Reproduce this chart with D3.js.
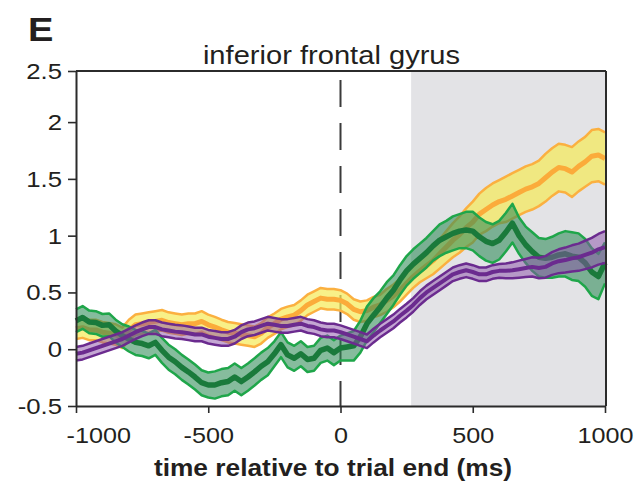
<!DOCTYPE html>
<html>
<head>
<meta charset="utf-8">
<script src="https://cdn.jsdelivr.net/npm/d3@7/dist/d3.min.js"></script>
<style>
  html, body { margin: 0; padding: 0; background: #ffffff; }
  svg { display: block; }
  text { font-family: "Liberation Sans", Arial, Helvetica, sans-serif; fill: #231f20; }
</style>
</head>
<body>
<svg id="chart" width="638" height="486"></svg>
<script>
// ---------------- data ----------------
const panelLabel = "E";
const title = "inferior frontal gyrus";
const xTitle = "time relative to trial end (ms)";
const xTicks = [-1000, -500, 0, 500, 1000];
const yTicks = [-0.5, 0, 0.5, 1, 1.5, 2, 2.45];
const yTickLabels = ["-0.5", "0", "0.5", "1", "1.5", "2", "2.5"];
const shadeStart = 267;   // ms, grey window start
const times = d3.range(-1000, 1001, 25); // sample times (ms)

const greenMean = [0.25,0.28,0.24,0.235,0.21,0.215,0.16,0.12,0.09,0.06,
  0.05,0.03,0.06,-0.01,-0.07,-0.11,-0.16,-0.20,-0.245,-0.295,
  -0.315,-0.315,-0.295,-0.285,-0.245,-0.285,-0.245,-0.20,-0.15,-0.11,
  -0.04,0.04,-0.05,-0.08,-0.04,-0.09,-0.08,-0.01,0.01,-0.03,
  0.01,0.02,0.03,0.11,0.225,0.30,0.37,0.45,0.52,0.61,
  0.69,0.75,0.80,0.85,0.91,0.96,0.99,1.02,1.04,1.05,
  1.04,0.99,0.95,0.93,0.96,1.03,1.11,1.00,0.92,0.86,
  0.81,0.80,0.81,0.83,0.84,0.82,0.81,0.76,0.68,0.64,0.76];
const greenSem = [0.10,0.10,0.10,0.10,0.10,0.10,0.10,0.10,0.11,0.11,
  0.11,0.11,0.11,0.11,0.11,0.11,0.11,0.11,0.11,0.11,
  0.11,0.12,0.12,0.12,0.12,0.12,0.12,0.12,0.12,0.12,
  0.11,0.11,0.11,0.11,0.11,0.11,0.11,0.11,0.11,0.11,
  0.11,0.12,0.13,0.14,0.15,0.15,0.14,0.14,0.13,0.13,
  0.13,0.13,0.13,0.13,0.13,0.14,0.14,0.15,0.15,0.16,
  0.17,0.17,0.17,0.17,0.17,0.17,0.17,0.16,0.16,0.17,
  0.17,0.17,0.18,0.19,0.20,0.21,0.21,0.21,0.21,0.20,0.18];

const orangeMean = [0.18,0.19,0.17,0.17,0.15,0.14,0.13,0.10,0.17,0.215,
  0.225,0.235,0.245,0.255,0.235,0.225,0.215,0.225,0.225,0.245,
  0.215,0.195,0.17,0.15,0.14,0.13,0.12,0.11,0.14,0.19,
  0.225,0.265,0.285,0.30,0.34,0.39,0.42,0.45,0.44,0.44,
  0.43,0.40,0.35,0.33,0.34,0.37,0.39,0.43,0.47,0.52,
  0.58,0.64,0.69,0.735,0.78,0.84,0.90,0.96,1.01,1.07,
  1.12,1.19,1.23,1.27,1.30,1.32,1.35,1.38,1.41,1.43,
  1.46,1.51,1.56,1.60,1.59,1.56,1.61,1.65,1.70,1.71,1.68];
const orangeSem = [0.09,0.09,0.09,0.09,0.09,0.09,0.09,0.09,0.09,0.09,
  0.09,0.09,0.09,0.09,0.09,0.09,0.09,0.09,0.09,0.09,
  0.09,0.09,0.09,0.09,0.09,0.09,0.09,0.09,0.09,0.09,
  0.09,0.09,0.09,0.09,0.09,0.09,0.09,0.09,0.09,0.09,
  0.09,0.09,0.09,0.09,0.09,0.09,0.09,0.10,0.10,0.10,
  0.10,0.10,0.10,0.11,0.12,0.13,0.14,0.15,0.16,0.17,
  0.18,0.18,0.19,0.19,0.19,0.20,0.20,0.20,0.20,0.20,
  0.20,0.21,0.21,0.21,0.21,0.22,0.22,0.22,0.23,0.23,0.23];

const purpleMean = [-0.04,-0.03,-0.01,0.01,0.03,0.05,0.07,0.09,0.12,0.15,
  0.175,0.195,0.195,0.175,0.165,0.155,0.15,0.14,0.13,0.13,
  0.11,0.10,0.09,0.09,0.11,0.15,0.175,0.185,0.205,0.225,
  0.215,0.205,0.205,0.215,0.225,0.205,0.195,0.175,0.165,0.165,
  0.15,0.13,0.11,0.09,0.07,0.12,0.165,0.205,0.245,0.295,
  0.34,0.39,0.45,0.50,0.54,0.58,0.62,0.66,0.68,0.695,
  0.68,0.66,0.66,0.68,0.69,0.69,0.695,0.705,0.715,0.725,
  0.715,0.725,0.755,0.775,0.785,0.80,0.81,0.83,0.85,0.88,0.90];
const purpleSem = [0.06,0.06,0.06,0.06,0.06,0.06,0.06,0.06,0.06,0.06,
  0.06,0.06,0.06,0.06,0.06,0.06,0.06,0.06,0.06,0.06,
  0.06,0.06,0.06,0.06,0.06,0.06,0.06,0.06,0.06,0.06,
  0.06,0.06,0.06,0.06,0.06,0.06,0.06,0.06,0.06,0.06,
  0.06,0.06,0.06,0.06,0.06,0.06,0.06,0.06,0.06,0.06,
  0.06,0.06,0.06,0.06,0.06,0.06,0.06,0.06,0.06,0.06,
  0.06,0.06,0.06,0.06,0.06,0.065,0.07,0.075,0.08,0.085,
  0.09,0.095,0.10,0.105,0.11,0.115,0.12,0.125,0.13,0.135,0.14];

// ---------------- layout ----------------
const SX = 1.12; // horizontal text stretch of the source figure
const svg = d3.select("#chart");
const padL = 76, padR = 606, padT = 71, padB = 406;

const x = d3.scaleLinear().domain([-1000, 1000]).range([padL, 605]);
const y = d3.scaleLinear().domain([-0.5, 2.45]).range([padB, padT]);

// grey window
svg.append("rect")
  .attr("x", x(shadeStart)).attr("y", padT)
  .attr("width", padR - x(shadeStart)).attr("height", padB - padT)
  .attr("fill", "#e3e3e6");

// dashed line at 0
svg.append("line")
  .attr("x1", x(0)).attr("x2", x(0))
  .attr("y1", 80).attr("y2", padB)
  .attr("stroke", "#3a3a3a").attr("stroke-width", 2)
  .attr("stroke-dasharray", "27,16");

function mk(mean, sem) {
  return times.map((t, i) => ({ t, m: mean[i], s: sem[i] }))
    .filter(d => d.m !== undefined && d.s !== undefined);
}
const series = [
  { data: mk(orangeMean, orangeSem), fill: "#f5ea5a", fillOp: 0.72, edge: "#fbb040", mean: "#fbab3a", mw: 5 },
  { data: mk(greenMean, greenSem),   fill: "#2e8b57", fillOp: 0.58, edge: "#1fa64a", mean: "#1a7a3b", mw: 5.5 },
  { data: mk(purpleMean, purpleSem), fill: "#8a4fa8", fillOp: 0.5,  edge: "#6b2b8f", mean: "#6b2b8f", mw: 4 }
];

const area = d3.area().x(d => x(d.t)).y0(d => y(d.m - d.s)).y1(d => y(d.m + d.s));
const lineU = d3.line().x(d => x(d.t)).y(d => y(d.m + d.s));
const lineL = d3.line().x(d => x(d.t)).y(d => y(d.m - d.s));
const lineM = d3.line().x(d => x(d.t)).y(d => y(d.m));

series.forEach(s => {
  const g = svg.append("g");
  g.append("path").attr("d", area(s.data)).attr("fill", s.fill).attr("fill-opacity", s.fillOp);
  g.append("path").attr("d", lineU(s.data)).attr("fill", "none").attr("stroke", s.edge).attr("stroke-width", 2.5).attr("stroke-linejoin", "round");
  g.append("path").attr("d", lineL(s.data)).attr("fill", "none").attr("stroke", s.edge).attr("stroke-width", 2.5).attr("stroke-linejoin", "round");
  g.append("path").attr("d", lineM(s.data)).attr("fill", "none").attr("stroke", s.mean).attr("stroke-width", s.mw).attr("stroke-linejoin", "round");
});

// frame (top and right)
svg.append("line").attr("x1", padL).attr("x2", padR).attr("y1", padT).attr("y2", padT)
  .attr("stroke", "#2b2b2b").attr("stroke-width", 2);
svg.append("line").attr("x1", padR).attr("x2", padR).attr("y1", padT).attr("y2", padB)
  .attr("stroke", "#2b2b2b").attr("stroke-width", 2);

// axes
const yAxis = d3.axisLeft(y).tickValues(yTicks)
  .tickFormat((d, i) => yTickLabels[i]).tickSize(8).tickSizeOuter(0);
const gy = svg.append("g").attr("transform", `translate(${padL},0)`).call(yAxis);
gy.select(".domain").attr("stroke", "#2b2b2b").attr("stroke-width", 2);
gy.selectAll(".tick line").attr("stroke", "#2b2b2b").attr("stroke-width", 1.6);
gy.selectAll(".tick text")
  .attr("x", -14 / SX).attr("transform", `scale(${SX},1)`)
  .attr("font-size", 23).attr("fill", "#231f20")
  .style("font-family", "'Liberation Sans', Arial, sans-serif");

const xAxis = d3.axisBottom(x).tickValues(xTicks).tickFormat(d => String(d))
  .tickSize(7).tickSizeOuter(0);
const gx = svg.append("g").attr("transform", `translate(0,${padB})`).call(xAxis);
gx.select(".domain").attr("stroke", "#2b2b2b").attr("stroke-width", 2);
gx.selectAll(".tick line").attr("stroke", "#2b2b2b").attr("stroke-width", 1.6);
gx.selectAll(".tick text")
  .attr("y", 21).attr("transform", `scale(${SX},1)`)
  .attr("font-size", 22.5).attr("fill", "#231f20")
  .style("font-family", "'Liberation Sans', Arial, sans-serif");
// first label is shifted right so it stays inside the figure (as in the source)
gx.selectAll(".tick text").filter(d => d === -1000)
  .attr("text-anchor", "start").attr("x", -10 / SX);

function stext(px, py, str, size, weight, anchor) {
  svg.append("text")
    .attr("transform", `translate(${px},${py}) scale(${SX},1)`)
    .attr("text-anchor", anchor)
    .attr("font-size", size)
    .attr("font-weight", weight)
    .text(str);
}
stext(28, 41, panelLabel, 34, "bold", "start");
stext(331.5, 64, title, 26, "normal", "middle");
stext(333, 476, xTitle, 23.5, "bold", "middle");
</script>
</body>
</html>
